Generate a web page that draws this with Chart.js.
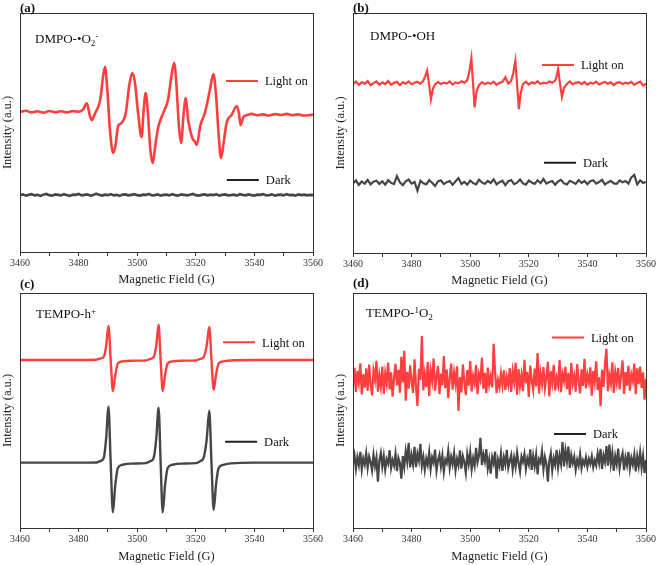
<!DOCTYPE html>
<html>
<head>
<meta charset="utf-8">
<script src="https://cdn.jsdelivr.net/npm/chart.js@4.4.1/dist/chart.umd.min.js"></script>
<style>
  body { margin: 0; background: #fff; width: 658px; height: 565px; position: relative; overflow: hidden;
         font-family: 'Liberation Serif', 'Times New Roman', serif; color: #111; }
  canvas { position: absolute; }
  .tag { position: absolute; font-weight: bold; font-size: 13px; line-height: 15px; }
  .name { position: absolute; font-size: 13px; line-height: 15px; white-space: nowrap; }
  .name sub, .name sup { font-size: 70%; line-height: 0; position: relative; vertical-align: baseline; }
  .name sub { top: 0.3em; }
  .name sup { top: -0.45em; }
</style>
</head>
<body>
<canvas id="pa" width="329" height="290" style="left:0;top:0"></canvas>
<canvas id="pb" width="325" height="290" style="left:333px;top:0"></canvas>
<canvas id="pc" width="329" height="285" style="left:0;top:280px"></canvas>
<canvas id="pd" width="325" height="285" style="left:333px;top:280px"></canvas>

<div class="tag" style="left:20px;top:0">(a)</div>
<div class="tag" style="left:353px;top:0">(b)</div>
<div class="tag" style="left:20px;top:276px">(c)</div>
<div class="tag" style="left:353px;top:275px">(d)</div>
<div class="name" style="left:35px;top:31px">DMPO-•O<sub>2</sub><sup>-</sup></div>
<div class="name" style="left:370px;top:28px">DMPO-•OH</div>
<div class="name" style="left:36px;top:306px">TEMPO-h<sup>+</sup></div>
<div class="name" style="left:366px;top:305px">TEMPO-<sup>1</sup>O<sub>2</sub></div>

<script>
// (a) DMPO-•O2- , light on
const aRedField = [3460,3462,3464,3466,3468,3470,3472,3474,3476,3478,3480,
  3481.5,3482.8,3483.8,3484.5,3485.5,3486.7,3487.5,3488.2,3489.0,3489.8,
  3490.7,3491.8,3492.6,3493.5,3494.5,3496.1,3497.3,3498.3,3499.2,3500.3,
  3501.5,3502.2,3502.9,3503.7,3504.5,3505.3,3506.2,3507.2,3508.9,3510.5,
  3511.6,3512.6,3513.4,3514.2,3515.0,3515.8,3516.6,3517.4,3518.8,3519.8,
  3520.3,3521.6,3523.1,3524.8,3526.0,3526.9,3527.8,3528.6,3529.4,3530.5,
  3532.2,3534.0,3534.7,3535.3,3536.2,3537.5,3539,3541,3543,3545,
  3547,3549,3551,3553,3555,3557,3560];
const aRedIntensity = [58.6,59.1,58.4,58.9,58.3,59.0,58.5,58.9,58.4,59.0,58.7,
  59.6,62.2,57.3,55.2,57.7,60.8,64.5,72.0,77.5,67.8,
  51.0,41.4,44.8,52.7,53.8,58.2,69.9,74.9,71.1,58.2,
  48.1,59.4,66.5,57.3,42.7,37.2,44.8,52.3,58.2,63.6,
  72.8,79.2,69.9,53.1,45.6,57.3,64.4,55.2,47.7,46.0,
  44.8,53.2,58.2,67.8,74.5,65.7,49.0,39.3,44.8,54.0,
  57.3,61.1,58.2,53.1,56.5,57.3,57.8,57.2,57.6,57.1,
  57.7,57.3,57.8,57.2,57.6,57.1,57.5];
// (a) dark, one point per gauss from 3460
const aDark = [23.8,24.1,23.6,23.9,24.2,23.7,23.9,23.5,24.0,24.3,
  23.8,23.6,24.1,23.9,23.7,24.2,23.8,23.5,24.0,23.9,
  24.3,23.7,23.9,24.1,23.6,23.8,24.4,23.9,23.6,24.0,
  23.8,24.2,23.7,23.9,23.5,24.0,24.1,23.7,23.9,24.2,
  23.8,23.6,24.0,23.9,24.3,23.7,23.8,24.1,23.6,23.9,
  24.0,23.7,24.2,23.8,23.6,24.1,23.9,23.7,24.0,24.3,
  23.8,23.6,23.9,24.1,23.7,24.0,23.8,24.2,23.6,23.9,
  24.1,23.7,23.8,24.0,23.6,24.2,23.9,23.7,24.1,23.8,
  23.6,24.0,23.9,24.2,23.7,23.8,24.1,23.6,23.9,24.0,
  23.7,24.2,23.8,23.9,23.6,24.1,23.8,24.0,23.7,23.9,
  23.8];

// (b) DMPO-•OH, light on
const bRedField = [3460,3461,3462,3463,3464,3465,3466,3467,3468,3469,3470,3471,3472,3473,3474,3475,3476,3477,3478,3479,3480,3481,3482,3483,3484,
  3484.6,3485.3,3485.95,3486.6,3487.3,3488,
  3489,3490,3491,3492,3493,3494,3495,3496,3497,3498,3499,
  3499.7,3500.4,3500.95,3501.5,3502.2,3503,
  3504,3505,3506,3507,3508,3509,3510,3511,3512,3513,3514,
  3514.7,3515.4,3516.0,3516.6,3517.3,3518,
  3519,3520,3521,3522,3523,3524,3525,3526,3527,3528,3529,
  3529.4,3530.0,3530.65,3531.3,3532.0,3533,
  3534,3535,3536,3537,3538,3539,3540,3541,3542,3543,3544,3545,3546,3547,3548,3549,3550,3551,3552,3553,3554,3555,3556,3557,3558,3559,3560];
const bRedIntensity = [70.3,71.4,70.0,71.2,70.5,71.6,69.9,70.8,71.5,70.2,71.0,70.4,71.7,70.1,70.9,71.3,70.0,71.1,70.6,71.5,70.3,70.9,71.4,70.5,71.8,
  73.5,76.0,70.5,64.0,68.5,70.2,
  71.3,70.4,71.0,70.6,71.5,70.2,71.1,70.7,71.6,71.0,72.0,
  75.5,81.1,71.0,60.7,67.5,70.0,
  71.2,70.3,71.0,70.5,71.4,70.1,70.9,71.3,73.2,70.6,71.8,
  75.0,80.1,70.5,60.0,67.0,70.4,
  71.4,70.2,71.1,70.6,71.6,70.4,71.0,70.7,71.5,70.9,71.8,
  73.2,76.5,70.5,65.1,68.8,70.4,
  71.5,70.3,70.9,71.2,70.4,71.3,70.1,71.0,70.6,71.4,70.2,70.8,71.3,70.5,71.1,70.0,70.9,71.2,70.4,71.0,70.6,71.3,70.1,70.8,71.4,69.8,70.5];
// (b) dark, one point per gauss from 3460
const bDark = [29.0,30.2,28.4,29.8,28.9,30.5,28.6,29.7,30.1,28.8,
  29.9,28.5,30.3,29.2,28.7,32.0,29.4,28.3,29.9,30.6,
  28.9,29.6,26.0,30.1,29.0,28.6,30.4,29.3,27.9,29.8,
  30.3,28.7,29.5,30.0,28.4,29.9,31.2,28.8,29.6,28.5,
  30.2,29.1,28.6,30.5,29.4,28.8,30.0,29.2,30.7,28.6,
  29.5,30.1,28.3,29.9,30.4,28.7,29.3,30.6,29.0,28.5,
  30.2,29.4,28.8,30.3,29.1,30.8,28.9,29.6,30.0,28.4,
  29.8,30.5,29.0,28.6,30.1,29.5,28.8,30.4,29.2,30.0,
  28.7,29.9,30.3,28.9,29.6,30.5,28.6,29.4,30.1,29.0,
  28.8,30.2,29.5,30.0,28.9,31.5,32.5,28.6,30.3,29.2,
  29.6];

// (c) TEMPO-h+, shared field points for both traces
const cField = [3460,3470,3480,3486,3487.6,3488.6,3489.4,3490.2,3490.95,3491.7,
  3492.5,3493.4,3495,3498,3503,3504.6,3505.6,3506.5,3507.3,3508.0,
  3508.7,3509.5,3510.4,3512,3515,3520,3521.6,3522.6,3523.7,3524.6,
  3525.35,3526.1,3526.9,3527.8,3529.4,3532,3540,3550,3560];
const cRed = [71.5,71.5,71.5,71.6,72.2,72.8,77.5,86.0,71.5,58.3,
  65.0,70.0,70.9,71.2,71.3,72.0,72.7,77.5,86.5,71.5,
  58.3,65.0,70.0,70.9,71.2,71.3,72.0,72.6,77.5,85.5,
  71.5,58.8,65.2,70.0,70.9,71.3,71.5,71.5,71.5];
const cDark = [27.8,27.8,27.8,27.9,28.6,29.8,38.0,51.6,27.8,6.7,
  18.0,25.5,26.9,27.4,27.6,28.5,29.7,38.0,51.2,27.8,
  6.7,18.0,25.5,26.9,27.4,27.6,28.5,29.6,37.5,49.9,
  27.8,7.7,18.5,25.5,26.9,27.5,27.8,27.8,27.8];

// (d) TEMPO-1O2, one point per half gauss from 3460
const dRed = [60.5,68.2,57.9,66.8,62.0,70.1,56.8,65.4,59.7,67.9,
  58.3,69.5,61.2,56.4,67.0,63.1,71.2,58.0,64.9,60.2,
  68.7,57.1,65.8,61.5,70.4,59.0,66.2,55.9,63.8,69.9,
  60.7,67.3,57.6,72.8,61.9,75.4,54.2,66.5,59.3,69.2,
  62.4,57.5,71.8,60.1,51.9,67.7,63.0,81.7,58.6,65.3,
  60.0,70.6,56.2,66.9,62.7,72.1,58.4,64.6,68.9,57.0,
  65.7,60.8,73.2,59.5,67.4,55.3,63.6,70.0,58.9,66.1,
  61.4,68.8,49.8,64.2,57.7,69.6,62.3,56.5,67.2,60.6,
  71.0,58.1,64.8,61.7,69.3,56.9,65.5,62.9,72.4,59.2,
  66.0,57.4,68.3,61.1,64.5,59.8,78.4,66.3,57.4,63.0,
  59.9,65.8,60.7,67.1,58.8,64.3,61.0,68.0,57.9,66.6,
  62.2,70.3,56.7,67.6,60.4,65.1,58.2,71.6,61.6,66.4,
  55.8,69.1,62.6,58.7,67.8,60.3,74.5,57.2,65.9,61.3,
  68.5,59.6,63.9,70.7,56.0,66.7,61.8,69.4,58.5,64.0,
  60.9,71.5,57.8,65.6,62.5,68.6,59.1,66.0,56.6,70.2,
  61.5,64.7,58.0,69.7,62.8,57.3,67.5,60.5,72.0,59.4,
  65.2,61.9,68.4,56.3,66.8,62.1,70.9,58.7,64.1,51.8,
  67.3,60.0,69.8,76.3,58.2,65.0,61.4,70.5,57.5,66.4,
  62.0,68.1,59.0,64.9,71.3,57.1,66.3,60.6,69.0,58.4,
  65.4,62.7,70.0,56.9,67.9,61.2,68.7,59.6,66.2,54.6,
  63.5];
const dDark = [27.5,31.0,25.2,30.1,26.8,32.4,24.9,29.6,27.0,31.8,
  25.6,30.4,28.1,24.5,31.2,26.3,29.9,19.7,28.8,32.0,
  26.1,30.7,24.8,29.3,27.4,33.1,25.5,28.9,26.6,31.5,
  24.2,29.8,27.7,21.0,30.6,26.0,32.7,28.3,36.2,25.8,
  30.9,27.1,34.5,25.9,31.6,28.6,35.8,26.4,30.2,24.7,
  29.5,26.9,32.2,25.1,30.0,27.8,33.4,24.4,28.7,31.1,
  26.2,30.8,23.9,29.1,27.6,32.8,25.7,30.3,27.2,31.9,
  24.6,29.4,26.7,33.0,25.3,30.5,28.0,23.5,31.4,27.3,
  32.3,25.0,29.7,26.5,34.1,27.9,30.7,38.4,26.8,31.3,
  28.4,33.6,25.4,29.2,23.1,30.1,27.5,32.5,21.0,29.0,
  26.4,31.7,24.3,30.0,27.0,33.3,25.6,28.5,31.0,24.9,
  29.9,26.1,32.1,27.7,24.0,30.4,28.2,31.5,25.2,29.6,
  27.1,33.5,24.7,30.6,26.3,31.2,22.8,29.3,27.9,32.6,
  25.0,30.2,27.4,19.7,28.6,31.8,24.5,29.7,26.9,33.2,
  25.8,30.9,27.2,36.6,26.2,32.9,28.3,34.7,25.6,31.0,
  27.6,30.3,24.8,29.0,26.6,31.4,25.4,28.8,27.0,30.1,
  26.0,29.4,27.3,30.5,25.9,28.9,26.7,31.6,27.8,33.7,
  25.1,30.8,28.1,34.9,26.5,35.5,27.4,32.0,24.3,30.6,
  27.2,33.8,25.5,29.5,31.9,24.6,30.0,26.8,32.4,25.3,
  29.8,27.0,31.3,24.1,30.4,26.4,32.2,25.7,30.7,23.4,
  28.9];

const FIELD_START = 3460;
const RED = 'rgb(255, 62, 62)';
const GREY = 'rgb(70, 70, 70)';
const SERIF = "'Liberation Serif', 'Times New Roman', serif";

const pairs = (fields, values) => values.map((v, i) => ({ x: fields[i], y: v }));
const swept = (values, step) => values.map((v, i) => ({ x: FIELD_START + i * step, y: v }));

const frame = {
  id: 'frame',
  afterDraw(chart, args, opts) {
    const { ctx, chartArea: c } = chart;
    ctx.save();
    ctx.strokeStyle = '#333';
    ctx.lineWidth = 1;
    ctx.strokeRect(Math.round(c.left) + 0.5, Math.round(c.top) + 0.5,
      Math.round(c.right - c.left), Math.round(c.bottom - c.top));
    ctx.font = '12.5px ' + SERIF;
    ctx.textBaseline = 'middle';
    for (const m of opts.items || []) {
      const x = c.left + m.fx * (c.right - c.left);
      const y = c.top + m.fy * (c.bottom - c.top);
      ctx.strokeStyle = m.color;
      ctx.lineWidth = 2;
      ctx.beginPath();
      ctx.moveTo(x, y);
      ctx.lineTo(x + 32, y);
      ctx.stroke();
      ctx.fillStyle = '#111';
      ctx.fillText(m.text, x + 39, y + 1);
    }
    ctx.restore();
  }
};

function panel(id, datasets, items, pad, xHeight) {
  new Chart(document.getElementById(id), {
    type: 'line',
    data: { datasets: datasets },
    options: {
      responsive: false,
      animation: false,
      layout: { padding: pad },
      elements: { point: { radius: 0 }, line: { tension: 0 } },
      plugins: { legend: { display: false }, tooltip: { enabled: false }, frame: { items: items } },
      scales: {
        x: {
          type: 'linear', min: 3460, max: 3560,
          afterFit: s => { s.height = xHeight; },
          border: { color: '#333' },
          grid: { drawOnChartArea: false, tickLength: 4, color: '#333' },
          ticks: {
            stepSize: 10, autoSkip: false, maxRotation: 0, padding: 1, color: '#333',
            font: { family: SERIF, size: 10 },
            callback: v => v % 20 === 0 ? v : ''
          },
          title: { display: true, text: 'Magnetic Field (G)', color: '#222', padding: 0,
                   font: { family: SERIF, size: 12.5 } }
        },
        y: {
          min: 0, max: 100,
          afterFit: s => { s.width = 20; },
          border: { color: '#333' },
          grid: { display: false },
          ticks: { display: false },
          title: { display: true, text: 'Intensity (a.u.)', color: '#222', padding: 0,
                   font: { family: SERIF, size: 12.5 } }
        }
      }
    },
    plugins: [frame]
  });
}

const line = (data, color, width, smooth) => ({
  data: data, borderColor: color, borderWidth: width, pointRadius: 0,
  cubicInterpolationMode: smooth ? 'monotone' : 'default'
});

panel('pa', [
  line(pairs(aRedField, aRedIntensity), RED, 2.6, true),
  line(swept(aDark, 1), GREY, 2.6)
], [
  { text: 'Light on', color: RED, fx: 0.703, fy: 0.285 },
  { text: 'Dark', color: '#222', fx: 0.706, fy: 0.699 }
], { left: 0, top: 13, right: 16, bottom: 3 }, 35);

panel('pb', [
  line(pairs(bRedField, bRedIntensity), RED, 2.2),
  line(swept(bDark, 1), GREY, 2.2)
], [
  { text: 'Light on', color: RED, fx: 0.645, fy: 0.217 },
  { text: 'Dark', color: '#222', fx: 0.652, fy: 0.624 }
], { left: 0, top: 13, right: 12, bottom: 2 }, 35);

panel('pc', [
  line(pairs(cField, cRed), RED, 2.4, true),
  line(pairs(cField, cDark), GREY, 2.4, true)
], [
  { text: 'Light on', color: RED, fx: 0.693, fy: 0.210 },
  { text: 'Dark', color: '#222', fx: 0.700, fy: 0.633 }
], { left: 0, top: 13, right: 16, bottom: 1 }, 36);

panel('pd', [
  line(swept(dRed, 0.5), RED, 2.2),
  line(swept(dDark, 0.5), GREY, 2.2)
], [
  { text: 'Light on', color: RED, fx: 0.679, fy: 0.189 },
  { text: 'Dark', color: '#222', fx: 0.686, fy: 0.600 }
], { left: 0, top: 13, right: 12, bottom: 1 }, 36);
</script>
</body>
</html>
